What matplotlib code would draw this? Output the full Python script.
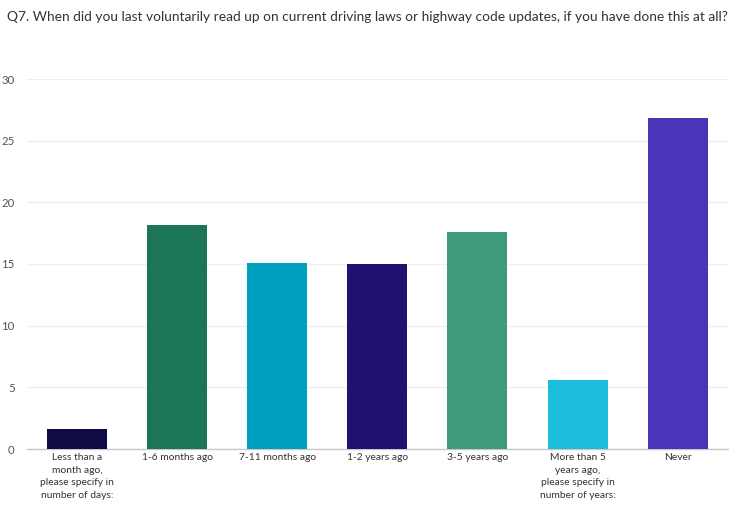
import matplotlib
matplotlib.use("Agg")
import matplotlib.pyplot as plt

categories = ["Less than a\nmonth ago,\nplease specify in\nnumber of days:",
              "1-6 months ago", "7-11 months ago", "1-2 years ago",
              "3-5 years ago",
              "More than 5\nyears ago,\nplease specify in\nnumber of years:",
              "Never"]
values = [1.6, 18.2, 15.1, 15.0, 17.6, 5.6, 26.8]
colors = ["#110B45", "#1C7559", "#00A0BF", "#201070", "#3F9A7B", "#1BBDDD", "#4A35B8"]
yticks = [0, 5, 10, 15, 20, 25, 30]
title = "Q7. When did you last voluntarily read up on current driving laws or highway code updates, if you have done this at all?"

plt.rcParams['font.family'] = ['Lato', 'DejaVu Sans']
fig = plt.figure(figsize=(7.51, 5.25), dpi=100)
ax = fig.add_axes([27/751, 76/525, 700.7/751, 370/525])
x = list(range(len(categories)))
ax.bar(x, values, width=0.6, color=colors, zorder=3)
ax.set_xlim(-0.5, len(categories) - 0.5)
ax.set_ylim(0, 30)
ax.set_yticks(yticks)
ax.set_xticks(x)
ax.set_xticklabels(categories, fontsize=7.4, color="#333333", linespacing=1.5, va="top")
ax.tick_params(axis='y', labelsize=8.2, colors="#555555", length=0, pad=9)
ax.tick_params(axis='x', length=0, pad=3)
ax.grid(axis='y', color="#EEEEEE", linewidth=1, zorder=0)
for s in ["top", "right", "left"]:
    ax.spines[s].set_visible(False)
ax.spines["bottom"].set_color("#C8C8C8")
ax.spines["bottom"].set_linewidth(1)
fig.text(7/751, 1 - 17/525, title, fontsize=9.95, color="#333333", va="center", ha="left")
fig.savefig("out.png", dpi=100)
